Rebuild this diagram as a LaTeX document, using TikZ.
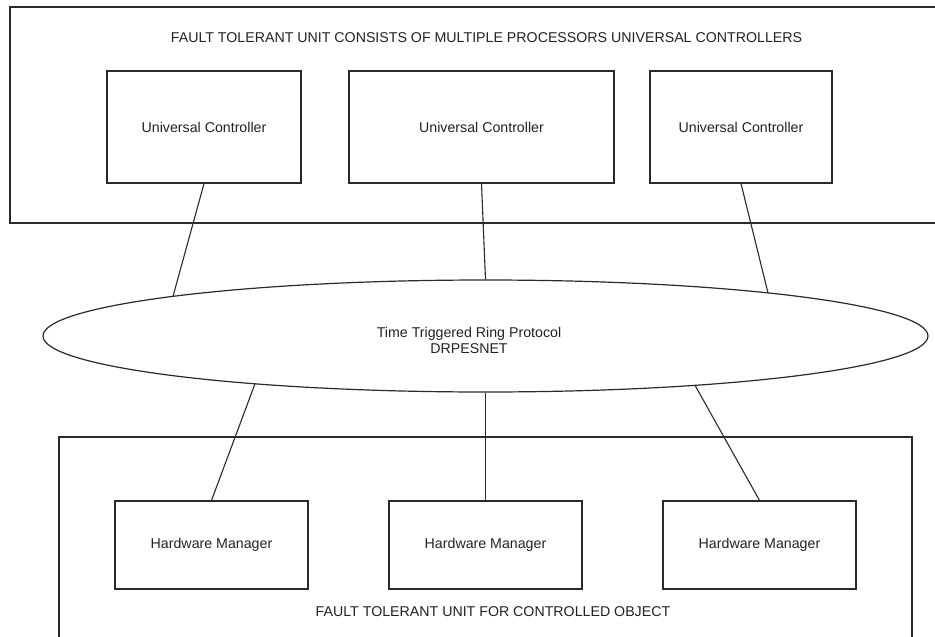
\documentclass[tikz,border=0pt]{standalone}
\usepackage{fontspec}
\setmainfont{Liberation Sans}
\usetikzlibrary{shapes.geometric}
\definecolor{ink}{HTML}{222222}
\definecolor{edge}{HTML}{2A2A2A}
\tikzset{
  unitbox/.style={draw=edge, line width=1.2pt, rectangle, inner sep=0pt, text=ink},
  ctrlbox/.style={unitbox, minimum height=112pt},
  hwbox/.style={unitbox, minimum width=193pt, minimum height=88pt},
  ringnet/.style={draw=edge, line width=1.2pt, ellipse, inner sep=0pt,
                  minimum width=885pt, minimum height=112pt},
  caption/.style={text=ink, inner sep=0pt, align=center},
  link/.style={draw=edge, line width=1.1pt},
  frame/.style={draw=edge, line width=1.2pt}
}
\begin{document}
\begin{tikzpicture}[x=1pt, y=-1pt, font=\fontsize{14.2}{16}\selectfont]
  \useasboundingbox (0,0) rectangle (935,637);
  \fill[white] (0,0) rectangle (935,637);
  \clip (0,0) rectangle (935,637);

  % upper unit: the redundant universal controllers
  \draw[frame] (10,7) rectangle (950,223);
  \node[caption] (toptitle) at (486.5,38)
    {FAULT TOLERANT UNIT CONSISTS OF MULTIPLE PROCESSORS UNIVERSAL CONTROLLERS};
  \node[ctrlbox, minimum width=194pt] (ucA) at (204,127) {Universal Controller};
  \node[ctrlbox, minimum width=265pt] (ucB) at (481.5,127) {Universal Controller};
  \node[ctrlbox, minimum width=182pt] (ucC) at (741,127) {Universal Controller};

  % time triggered ring bus
  \node[ringnet] (ring) at (485.5,336) {};
  \node[caption] (ringtext) at (469,340) {Time Triggered Ring Protocol\\DRPESNET};

  % attachment points on the ring (exact points of its outline)
  \coordinate (tapA) at ([shift={(-312.5,-39.6)}]ring.center);
  \coordinate (tapC) at ([shift={(282.5,-43.1)}]ring.center);
  \coordinate (tapD) at ([shift={(-230.5,47.8)}]ring.center);
  \coordinate (tapF) at ([shift={(209.5,49.3)}]ring.center);

  % lower unit: hardware managers of the controlled object
  \draw[frame] (59,437) rectangle (912,660);
  \node[hwbox] (hmA) at (211.5,545) {Hardware Manager};
  \node[hwbox] (hmB) at (485.5,545) {Hardware Manager};
  \node[hwbox] (hmC) at (759.5,545) {Hardware Manager};
  \node[caption] (bottitle) at (493,612) {FAULT TOLERANT UNIT FOR CONTROLLED OBJECT};

  % connections to the ring
  \draw[link] (ucA.south) -- (tapA);
  \draw[link] (ucB.south) -- (ring.north);
  \draw[link] (ucC.south) -- (tapC);
  \draw[link] (tapD) -- (hmA.north);
  \draw[link] (ring.south) -- (hmB.north);
  \draw[link] (tapF) -- (hmC.north);
\end{tikzpicture}
\end{document}
